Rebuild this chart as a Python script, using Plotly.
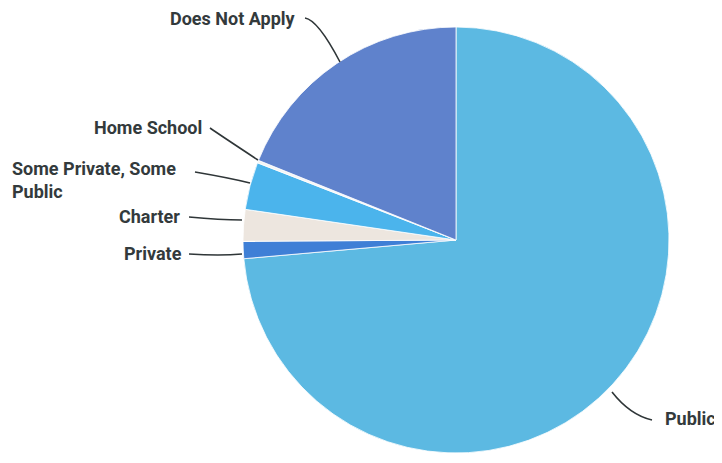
import plotly.graph_objects as go

categories = ["Public", "Private", "Charter", "Some Private, Some Public", "Home School", "Does Not Apply"]
values = [73.6, 1.3, 2.4, 3.6, 0.2, 18.9]
colors = ["#5cb9e2", "#3f7fd6", "#ede6df", "#4bb4ec", "#f4f4f4", "#5f82cc"]

W, H = 722, 463
OFF = 8  # page body margin offset

def px(x, y):
    return (x - OFF) / W, 1 - (y - OFF) / H

cx0, cy0, R = 456 - OFF, 240 - OFF, 213
fig = go.Figure(go.Pie(
    labels=categories, values=values, sort=False, direction="clockwise", rotation=0,
    marker=dict(colors=colors, line=dict(color="#ffffff", width=0.8)),
    textinfo="none", hoverinfo="label+percent", showlegend=False,
    domain=dict(x=[(cx0 - R) / W, (cx0 + R) / W], y=[(H - cy0 - R) / H, (H - cy0 + R) / H]),
))

label_font = dict(family="Roboto", size=18, color="#333a3c")
labels = [
    ("Does Not Apply", 298, 18, "right"),
    ("Home School", 204, 127, "right"),
    ("Some Private, Some<br>Public", 10, 180, "left"),
    ("Charter", 182, 216, "right"),
    ("Private", 184, 253, "right"),
    ("Public", 663, 418, "left"),
]
for text, x, y, anchor in labels:
    ax, ay = px(x, y)
    fig.add_annotation(x=ax, y=ay, xref="paper", yref="paper", text="<b>" + text + "</b>",
                       showarrow=False, xanchor=anchor, yanchor="middle", align="left",
                       font=label_font)

leaders = [
    [(305, 18), (318, 20), (340, 62)],
    [(210, 128), (220, 135), (258, 160)],
    [(195, 172), (230, 178), (250, 183)],
    [(189, 217), (220, 220), (242, 220)],
    [(189, 254), (220, 256), (242, 254)],
    [(612, 392), (630, 415), (652, 420)],
]
for (x0, y0), (cx, cy), (x1, y1) in leaders:
    p0, pc, p1 = px(x0, y0), px(cx, cy), px(x1, y1)
    fig.add_shape(type="path", xref="paper", yref="paper",
                  path=f"M {p0[0]},{p0[1]} Q {pc[0]},{pc[1]} {p1[0]},{p1[1]}",
                  line=dict(color="#2f3638", width=1.6))

fig.update_layout(width=W, height=H, margin=dict(l=0, r=0, t=0, b=0),
                  paper_bgcolor="white", plot_bgcolor="white")
fig.write_html("out.html")
